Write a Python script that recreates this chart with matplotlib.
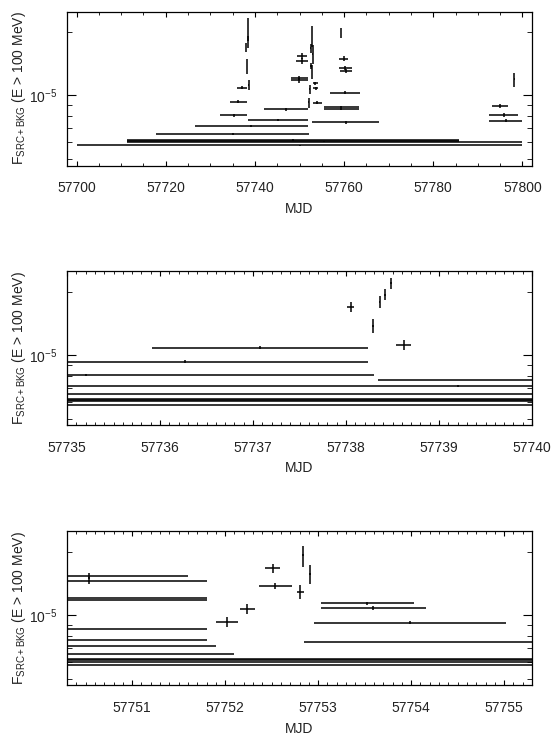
import numpy as np
import matplotlib
matplotlib.use("Agg")
import matplotlib.pyplot as plt
from matplotlib.ticker import LogLocator, NullFormatter, MultipleLocator

plt.rcParams["font.family"] = ["Liberation Sans", "DejaVu Sans"]
plt.rcParams["mathtext.fontset"] = "custom"
plt.rcParams["mathtext.rm"] = "Liberation Sans"
plt.rcParams["mathtext.it"] = "Liberation Sans:italic"

# bins of the light curve: start, stop (MJD), flux and 1-sigma error
t_start = [57700.0, 57711.2, 57711.2, 57711.2, 57717.9, 57726.5, 57738.34, 57742.0,
           57732.1, 57734.3, 57735.91, 57738.01, 57738.28, 57738.35, 57738.41, 57738.47,
           57738.54, 57749.48, 57749.28, 57748.0, 57748.0,
           57751.90, 57752.16, 57752.43, 57752.36, 57752.77, 57752.83, 57752.90,
           57753.03, 57753.03, 57752.96, 57752.85,
           57759.33, 57758.77, 57758.8, 57759.0, 57756.9, 57755.4, 57755.4,
           57798.18, 57793.1, 57792.6, 57792.6]
t_stop = [57800.0, 57785.7, 57785.7, 57800.0, 57752.1, 57751.9, 57751.8, 57751.8,
          57738.3, 57738.24, 57738.24, 57738.09, 57738.30, 57738.37, 57738.43, 57738.49,
          57738.70, 57751.60, 57751.80, 57751.8, 57751.8,
          57752.14, 57752.32, 57752.59, 57752.72, 57752.85, 57752.85, 57752.92,
          57754.03, 57754.16, 57755.02, 57767.8,
          57759.37, 57760.97, 57761.8, 57761.8, 57763.5, 57763.3, 57763.3,
          57798.22, 57796.8, 57798.9, 57799.9]
flux = [5.80e-6, 6.17e-6, 6.10e-6, 6.03e-6, 6.54e-6, 7.17e-6, 7.65e-6, 8.60e-6,
        8.05e-6, 9.33e-6, 1.087e-5, 1.69e-5, 1.38e-5, 1.79e-5, 1.94e-5, 2.19e-5,
        1.12e-5, 1.54e-5, 1.46e-5, 1.21e-5, 1.18e-5,
        9.26e-6, 1.07e-5, 1.67e-5, 1.38e-5, 1.29e-5, 1.92e-5, 1.57e-5,
        1.14e-5, 1.08e-5, 9.22e-6, 7.45e-6,
        1.99e-5, 1.49e-5, 1.35e-5, 1.31e-5, 1.03e-5, 8.83e-6, 8.63e-6,
        1.19e-5, 8.92e-6, 8.09e-6, 7.60e-6]
flux_err = [0.04e-6, 0.05e-6, 0.05e-6, 0.05e-6, 0.07e-6, 0.08e-6, 0.10e-6, 0.12e-6,
            0.12e-6, 0.15e-6, 0.20e-6, 0.90e-6, 1.10e-6, 1.20e-6, 1.20e-6, 1.30e-6,
            0.60e-6, 0.50e-6, 0.50e-6, 0.30e-6, 0.30e-6,
            0.50e-6, 0.55e-6, 0.80e-6, 0.45e-6, 1.00e-6, 2.20e-6, 1.60e-6,
            0.20e-6, 0.20e-6, 0.15e-6, 0.10e-6,
            1.10e-6, 0.40e-6, 0.30e-6, 0.30e-6, 0.15e-6, 0.12e-6, 0.12e-6,
            0.90e-6, 0.20e-6, 0.15e-6, 0.10e-6]

# x range of each panel and tick steps
x_ranges = [(57697.85, 57802.15), (57735.0, 57740.0), (57750.3, 57755.3)]
x_major = [20, 1, 1]
x_minor = [5, 0.1, 0.1]

t_start = np.array(t_start)
t_stop = np.array(t_stop)
t_mid = (t_start + t_stop) / 2
t_half = (t_stop - t_start) / 2

fig = plt.figure(figsize=(5.53, 7.35), dpi=100)
bottoms = [0.7748, 0.4214, 0.0676]

for i in range(3):
    ax = fig.add_axes([0.1212, bottoms[i], 0.8409, 0.2095])
    ax.errorbar(t_mid, flux, xerr=t_half, yerr=flux_err, fmt="none",
                ecolor="black", elinewidth=1.1, capsize=0)
    ax.set_yscale("log")
    ax.set_ylim(4.65e-6, 2.5e-5)
    ax.set_xlim(x_ranges[i])
    ax.xaxis.set_major_locator(MultipleLocator(x_major[i]))
    ax.xaxis.set_minor_locator(MultipleLocator(x_minor[i]))
    ax.yaxis.set_major_locator(LogLocator(base=10))
    ax.yaxis.set_minor_locator(LogLocator(base=10, subs=np.arange(2, 10)))
    ax.yaxis.set_minor_formatter(NullFormatter())
    ax.ticklabel_format(axis="x", useOffset=False, style="plain")
    ax.tick_params(which="both", direction="in", top=True, right=True,
                   labelsize=10, colors="black", labelcolor="#222222")
    ax.tick_params(axis="y", which="major", length=6.5, pad=7)
    ax.tick_params(axis="y", which="minor", length=3.5)
    ax.tick_params(axis="x", which="major", length=3.5, pad=11)
    ax.tick_params(axis="x", which="minor", length=2.2)
    for s in ax.spines.values():
        s.set_linewidth(0.9)
    ax.set_xlabel("MJD", fontsize=10, labelpad=5, color="#222222")
    ax.set_ylabel(r"F$_{\rm SRC+BKG}$ (E > 100 MeV)", fontsize=10, labelpad=1,
                  color="#222222")

plt.savefig("out.png", dpi=100)
